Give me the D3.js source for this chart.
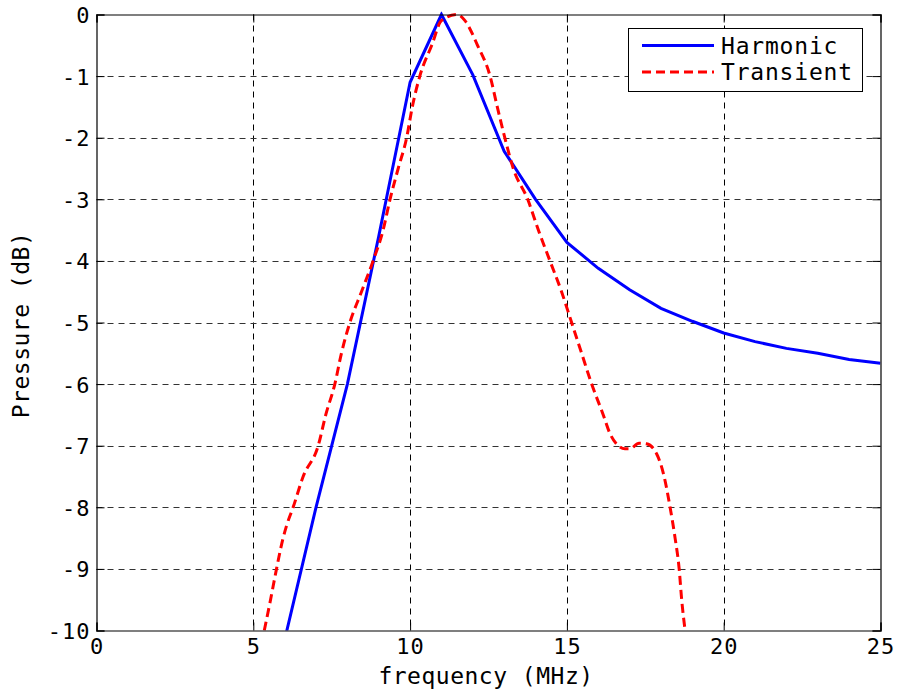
<!DOCTYPE html>
<html>
<head>
<meta charset="utf-8">
<script src="https://cdn.jsdelivr.net/npm/d3@7"></script>
<style>
  html, body { margin: 0; padding: 0; background: #fff; }
  svg { display: block; }
  text { font-family: "DejaVu Sans Mono", "Liberation Mono", monospace; fill: #000; }
</style>
</head>
<body>
<svg id="chart" width="897" height="695"></svg>
<script>
// Harmonic response, sampled at whole-MHz steps
const harmonicFreq = [6, 7, 8, 9, 10, 11, 12, 13, 14, 15, 16, 17, 18, 19, 20, 21, 22, 23, 24, 25];
const harmonicDb   = [-10.15, -8.0, -6.0, -3.6, -1.1, 0, -0.98, -2.22, -3.0, -3.7, -4.12, -4.47, -4.77, -4.98, -5.17, -5.31, -5.42, -5.5, -5.6, -5.66];

// Transient response
const transientFreq = [5.35, 5.55, 5.74, 5.95, 6.06, 6.27, 6.59, 7.07, 7.31, 7.6, 7.81, 8.08, 8.45, 8.82, 9.14, 9.36, 9.62, 9.89, 10.07, 10.31, 10.69, 11.0, 11.5, 11.75, 12.15, 12.55, 12.78, 13.02, 13.29, 13.75, 14.09, 14.46, 14.83, 15.15, 15.47, 15.79, 16.16, 16.37, 16.64, 16.85, 17.0, 17.3, 17.54, 17.86, 18.1, 18.29, 18.45, 18.58, 18.66, 18.77];
const transientDb   = [-10, -9.5, -9, -8.5, -8.3, -8, -7.5, -7, -6.5, -6, -5.5, -5, -4.5, -4, -3.5, -3, -2.5, -2, -1.5, -1, -0.5, -0.1, 0, -0.1, -0.5, -1, -1.5, -2, -2.5, -3, -3.5, -4, -4.5, -5, -5.5, -6, -6.5, -6.8, -7, -7.05, -7.05, -6.96, -6.97, -7.13, -7.5, -8, -8.5, -9, -9.5, -10];

const xTicks = [0, 5, 10, 15, 20, 25];
const yTicks = [0, -1, -2, -3, -4, -5, -6, -7, -8, -9, -10];

const seriesNames = ["Harmonic", "Transient"];
const seriesColors = ["#0000ff", "#ff0000"];

const svg = d3.select("#chart");
const plotL = 96.5, plotR = 880.5, plotT = 14.5, plotB = 630.5;

const x = d3.scaleLinear().domain([0, 25]).range([plotL, plotR]);
const y = d3.scaleLinear().domain([-10, 0]).range([plotB, plotT]);

// grid
const grid = svg.append("g").attr("stroke", "#000").attr("stroke-width", 1)
  .attr("stroke-dasharray", "6,5").attr("fill", "none");
xTicks.slice(1, -1).forEach(v => {
  grid.append("line").attr("x1", Math.round(x(v)) + 0.5).attr("x2", Math.round(x(v)) + 0.5)
    .attr("y1", plotT).attr("y2", plotB);
});
yTicks.slice(1, -1).forEach(v => {
  grid.append("line").attr("y1", Math.round(y(v)) + 0.5).attr("y2", Math.round(y(v)) + 0.5)
    .attr("x1", plotL).attr("x2", plotR).attr("stroke", "#333");
});

// clip for curves
svg.append("clipPath").attr("id", "plot-clip").append("rect")
  .attr("x", plotL).attr("y", plotT - 3).attr("width", plotR - plotL).attr("height", plotB - plotT + 3);

const harmonic = harmonicFreq.map((f, i) => [f, harmonicDb[i]]);
const transient = transientFreq.map((f, i) => [f, transientDb[i]]);

const lineLinear = d3.line().x(d => x(d[0])).y(d => y(d[1]));
const lineSmooth = d3.line().x(d => x(d[0])).y(d => y(d[1])).curve(d3.curveMonotoneX);

const plot = svg.append("g").attr("clip-path", "url(#plot-clip)");
plot.append("path").datum(harmonic).attr("d", lineLinear)
  .attr("fill", "none").attr("stroke", seriesColors[0]).attr("stroke-width", 3);
plot.append("path").datum(transient).attr("d", lineSmooth)
  .attr("fill", "none").attr("stroke", seriesColors[1]).attr("stroke-width", 3)
  .attr("stroke-dasharray", "9,5");

// axes with inward ticks on all four sides
const tickLen = 8;
const xAxisB = d3.axisBottom(x).tickValues(xTicks).tickSize(-tickLen).tickFormat(d3.format("d"));
const xAxisT = d3.axisTop(x).tickValues(xTicks).tickSize(-tickLen).tickFormat("");
const yAxisL = d3.axisLeft(y).tickValues(yTicks).tickSize(-tickLen).tickFormat(d => d === 0 ? "0" : "-" + Math.abs(d));
const yAxisR = d3.axisRight(y).tickValues(yTicks).tickSize(-tickLen).tickFormat("");

function style(g) {
  g.selectAll(".domain").attr("stroke", "#000").attr("stroke-width", 1.2);
  g.selectAll(".tick line").attr("stroke", "#000");
  g.selectAll(".tick text").attr("font-family", "DejaVu Sans Mono").attr("font-size", 22)
    .attr("letter-spacing", "1px").attr("fill", "#000");
}
svg.append("g").attr("transform", `translate(0,${plotB})`).call(xAxisB).call(style)
  .selectAll(".tick text").attr("dy", 0).attr("y", 23);
svg.append("g").attr("transform", `translate(0,${plotT})`).call(xAxisT).call(style);
svg.append("g").attr("transform", `translate(${plotL},0)`).call(yAxisL).call(style)
  .selectAll(".tick text").attr("x", -6).attr("dy", "0.36em");
svg.append("g").attr("transform", `translate(${plotR},0)`).call(yAxisR).call(style);

// axis titles
svg.append("text").attr("x", 486).attr("y", 684).attr("text-anchor", "middle")
  .attr("font-size", 23).attr("letter-spacing", "0.5px").text("frequency (MHz)");
svg.append("text").attr("transform", "translate(29,325) rotate(-90)").attr("text-anchor", "middle")
  .attr("font-size", 23).attr("letter-spacing", "0.5px").text("Pressure (dB)");

// legend
const lg = svg.append("g");
lg.append("rect").attr("x", 628.5).attr("y", 28.5).attr("width", 234).attr("height", 63)
  .attr("fill", "#fff").attr("stroke", "#000").attr("stroke-width", 1);
seriesNames.forEach((name, i) => {
  const yy = 45.5 + i * 26.5;
  lg.append("line").attr("x1", 642).attr("x2", 714).attr("y1", yy).attr("y2", yy)
    .attr("stroke", seriesColors[i]).attr("stroke-width", 3)
    .attr("stroke-dasharray", i === 1 ? "9,5" : null);
  lg.append("text").attr("x", 721).attr("y", yy).attr("dy", "0.36em")
    .attr("font-size", 23).attr("letter-spacing", "0.8px").text(name);
});
</script>
</body>
</html>
